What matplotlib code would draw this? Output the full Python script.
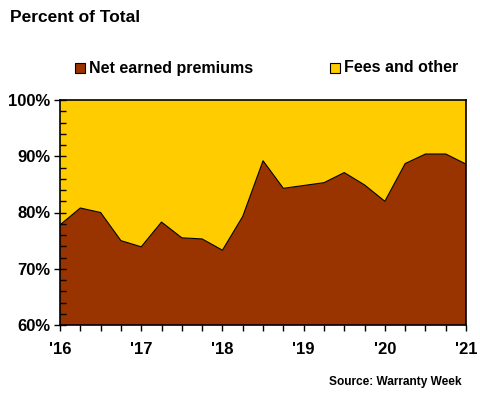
import matplotlib.pyplot as plt
import numpy as np

plt.rcParams['font.family'] = ['Liberation Sans', 'DejaVu Sans']
plt.rcParams['font.weight'] = 'bold'

# quarterly share of net earned premiums, 2016 Q1 .. 2021 Q1
quarters = np.arange(21)
net_earned = [77.8, 80.8, 80.0, 75.0, 73.9, 78.3, 75.5, 75.3, 73.3, 79.3,
              89.2, 84.3, 84.8, 85.3, 87.1, 84.9, 82.0, 88.7, 90.4, 90.4, 88.6]
fees_other = [100 - v for v in net_earned]
year_labels = ["'16", "'17", "'18", "'19", "'20", "'21"]

brown = '#993300'
yellow = '#FFCC00'

fig = plt.figure(figsize=(4.8, 4.0), dpi=100)
ax = fig.add_axes([0.125, 0.1875, 0.846, 0.5625])

ax.stackplot(quarters, net_earned, fees_other, colors=[brown, yellow], linewidth=0)
ax.plot(quarters, net_earned, color='black', lw=0.8)

ax.set_xlim(0, 20)
ax.set_ylim(60, 100)
ax.set_xticks(np.arange(0, 21, 4))
ax.set_xticks(np.arange(0, 21, 1), minor=True)
ax.set_xticklabels(year_labels, fontsize=12, fontweight='bold')
ax.set_yticks(np.arange(60, 101, 10))
ax.set_yticks(np.arange(60, 101, 2), minor=True)
ax.set_yticklabels(['%d%%' % v for v in range(60, 101, 10)], fontsize=12, fontweight='bold')
ax.tick_params(axis='x', which='both', direction='out', length=4, width=1, pad=8)
ax.tick_params(axis='y', which='major', direction='inout', length=8, width=1, pad=3)
ax.tick_params(axis='y', which='minor', direction='in', length=4, width=1)
for s in ax.spines.values():
    s.set_linewidth(1.2)

fig.text(10 / 480, 1 - 18 / 400, 'Percent of Total', fontsize=12.5, fontweight='bold', va='center')

# legend
for x0, label, c in [(75, 'Net earned premiums', brown), (330, 'Fees and other', yellow)]:
    fig.patches.append(plt.Rectangle((x0 / 480, 1 - 73 / 400), 10 / 480, 10 / 400,
                                     transform=fig.transFigure, facecolor=c,
                                     edgecolor='black', lw=0.8))
    fig.text((x0 + 14) / 480, 1 - 68 / 400, label, fontsize=11.5, fontweight='bold', va='center')

fig.text(462 / 480, 1 - 382 / 400, 'Source: Warranty Week', fontsize=8.6, fontweight='bold',
         ha='right', va='center')

fig.savefig('out.png', dpi=100)
